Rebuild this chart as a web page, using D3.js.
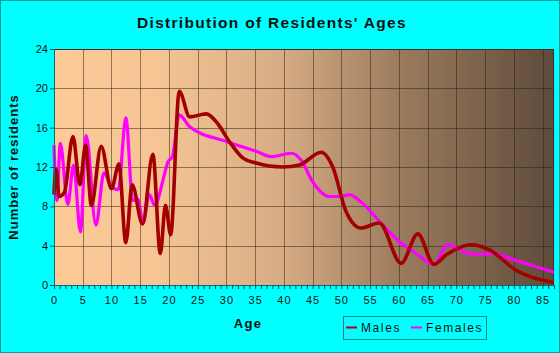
<!DOCTYPE html>
<html>
<head>
<meta charset="utf-8">
<script src="https://cdn.jsdelivr.net/npm/d3@7"></script>
<style>
  body { margin: 0; background: #00ffff; }
  text { font-family: "Liberation Sans", Arial, sans-serif; fill: #111; }
</style>
</head>
<body>
<div id="chart"></div>
<script>
// values (age, number of residents)
const maleAges = [0, 0.35, 0.9, 1.8, 3.3, 4.5, 5.5, 6.5, 8.2, 10, 11.3, 12.5, 13.6, 15.4, 17.2, 18.5, 19.4, 20.3, 21.8, 23.6, 26.5, 28.5, 30.5, 32.9, 35.2, 39.8, 42.7, 46.5, 48.5, 50.8, 53.4, 56.6, 60.4, 63.3, 66.1, 68.2, 72.5, 75.7, 80.4, 87];
const maleValues = [9.2, 11.8, 9.0, 9.4, 15.1, 10.2, 14.2, 8.1, 14.1, 9.8, 12.3, 4.3, 10.2, 6.2, 13.3, 3.2, 8.1, 5.1, 19.7, 17.1, 17.4, 16.4, 14.6, 12.9, 12.4, 12.0, 12.2, 13.5, 12.0, 7.5, 5.8, 6.3, 2.2, 5.2, 2.1, 3.05, 4.1, 3.6, 1.5, 0.25];

const femaleAges = [0, 0.5, 1.1, 2.4, 3.4, 4.6, 5.6, 7.3, 8.7, 10, 11.2, 12.5, 13.7, 14.6, 15.5, 16.6, 17.5, 19.2, 19.8, 20.6, 21.8, 23.6, 30, 35.2, 37.8, 41.3, 43, 45, 47.9, 49.9, 51.4, 53.7, 57.2, 60.1, 63, 66.1, 68.5, 70.2, 72.8, 76.3, 80.4, 87];
const femaleValues = [14.2, 8.6, 14.4, 8.2, 12.2, 5.4, 15.2, 6.1, 11.4, 10.0, 9.7, 17.0, 8.6, 8.7, 6.3, 9.2, 8.1, 11.2, 12.5, 13.05, 17.3, 16.1, 14.6, 13.6, 13.05, 13.4, 12.7, 10.5, 9.0, 9.0, 9.2, 8.3, 6.1, 4.4, 3.2, 2.1, 4.1, 3.7, 3.1, 3.2, 2.5, 1.3];

const xTicks = [0, 5, 10, 15, 20, 25, 30, 35, 40, 45, 50, 55, 60, 65, 70, 75, 80, 85];
const yTicks = [0, 4, 8, 12, 16, 20, 24];

const W = 560, H = 353;
const margin = { top: 49, right: 6, bottom: 68, left: 54 },
    width = W - margin.left - margin.right,
    height = H - margin.top - margin.bottom;

const svg = d3.select("#chart")
    .append("svg")
    .attr("width", W)
    .attr("height", H);

// outer frame
svg.append("rect")
    .attr("x", 0.5).attr("y", 0.5)
    .attr("width", W - 1).attr("height", H - 1)
    .attr("fill", "#00ffff")
    .attr("stroke", "#139a9a");

const defs = svg.append("defs");
const grad = defs.append("linearGradient")
    .attr("id", "bg")
    .attr("x1", "0%").attr("x2", "100%")
    .attr("y1", "0%").attr("y2", "0%");
grad.append("stop").attr("offset", "0%").attr("stop-color", "#fdca98");
grad.append("stop").attr("offset", "20%").attr("stop-color", "#f6c593");
grad.append("stop").attr("offset", "45%").attr("stop-color", "#d8ad85");
grad.append("stop").attr("offset", "70%").attr("stop-color", "#9a7a5c");
grad.append("stop").attr("offset", "100%").attr("stop-color", "#5e4b3b");

const g = svg.append("g")
    .attr("transform", `translate(${margin.left}, ${margin.top})`);

const x = d3.scaleLinear()
    .domain([0, 87])
    .range([0, width]);

const y = d3.scaleLinear()
    .domain([0, 24])
    .range([height, 0]);

g.append("rect")
    .attr("width", width)
    .attr("height", height)
    .attr("fill", "url(#bg)");

// grid
g.append("g")
    .selectAll("line")
    .data(xTicks.filter(d => d > 0))
    .join("line")
    .attr("x1", d => Math.round(x(d)) + 0.5)
    .attr("x2", d => Math.round(x(d)) + 0.5)
    .attr("y1", 0)
    .attr("y2", height)
    .attr("stroke", "rgba(40,30,20,0.5)");

g.append("g")
    .selectAll("line")
    .data(yTicks.filter(d => d > 0 && d < 24))
    .join("line")
    .attr("x1", 0)
    .attr("x2", width)
    .attr("y1", d => Math.round(y(d)) + 0.5)
    .attr("y2", d => Math.round(y(d)) + 0.5)
    .attr("stroke", "rgba(40,30,20,0.5)");

// top and right border
g.append("path")
    .attr("d", `M0,0.5H${width - 0.5}V${height}`)
    .attr("fill", "none")
    .attr("stroke", "#3a2e24");

// lines
const line = d3.line()
    .x(d => x(d[0]))
    .y(d => y(d[1]))
    .curve(d3.curveMonotoneX);

g.append("path")
    .datum(femaleAges.map((a, i) => [a, femaleValues[i]]))
    .attr("d", line)
    .attr("fill", "none")
    .attr("stroke", "#ff00ff")
    .attr("stroke-width", 3.2);

g.append("path")
    .datum(maleAges.map((a, i) => [a, maleValues[i]]))
    .attr("d", line)
    .attr("fill", "none")
    .attr("stroke", "#a30000")
    .attr("stroke-width", 3.6);

// X axis
const xAxis = g.append("g")
    .attr("transform", `translate(0, ${height})`)
    .call(d3.axisBottom(x)
        .tickValues(d3.range(0, 88))
        .tickSize(4)
        .tickFormat(d => d % 5 === 0 ? d : ""));
xAxis.select(".domain").attr("stroke", "#0b6f6f");
xAxis.selectAll(".tick line").attr("stroke", "#0b4f4f");
xAxis.selectAll(".tick text")
    .attr("dy", "1.05em")
    .style("font-size", "11px")
    .style("letter-spacing", "1px")
    .attr("fill", "#111");

// Y axis
const yAxis = g.append("g")
    .call(d3.axisLeft(y)
        .tickValues(yTicks)
        .tickSize(4)
        .tickPadding(2));
yAxis.select(".domain").attr("stroke", "#0b6f6f");
yAxis.selectAll(".tick line").attr("stroke", "#0b4f4f");
yAxis.selectAll(".tick text")
    .style("font-size", "11px")
    .attr("fill", "#111");

// title
svg.append("text")
    .attr("x", 272)
    .attr("y", 28)
    .attr("text-anchor", "middle")
    .style("font-size", "15.5px")
    .style("font-weight", "bold")
    .style("letter-spacing", "1.3px")
    .text("Distribution of Residents' Ages");

svg.append("text")
    .attr("x", 248)
    .attr("y", 328)
    .attr("text-anchor", "middle")
    .style("font-size", "13px")
    .style("font-weight", "bold")
    .style("letter-spacing", "1.3px")
    .text("Age");

svg.append("text")
    .attr("transform", "translate(18, 167) rotate(-90)")
    .attr("text-anchor", "middle")
    .style("font-size", "13px")
    .style("font-weight", "bold")
    .style("letter-spacing", "1px")
    .text("Number of residents");

// legend
const legend = svg.append("g");
legend.append("rect")
    .attr("x", 343.5).attr("y", 316.5)
    .attr("width", 143).attr("height", 23)
    .attr("fill", "none")
    .attr("stroke", "#1a8080");

const keys = ["Males", "Females"];
const keyColor = d3.scaleOrdinal().domain(keys).range(["#b00000", "#ff00ff"]);
const keyX = [346, 411];

legend.selectAll("line")
    .data(keys)
    .join("line")
    .attr("x1", (d, i) => keyX[i])
    .attr("x2", (d, i) => keyX[i] + 11)
    .attr("y1", 327.5)
    .attr("y2", 327.5)
    .attr("stroke", d => keyColor(d))
    .attr("stroke-width", 2);

legend.selectAll("text")
    .data(keys)
    .join("text")
    .attr("x", (d, i) => keyX[i] + 15)
    .attr("y", 332)
    .style("font-size", "12px")
    .style("letter-spacing", "1.6px")
    .attr("fill", "#0d3a3a")
    .text(d => d);
</script>
</body>
</html>
